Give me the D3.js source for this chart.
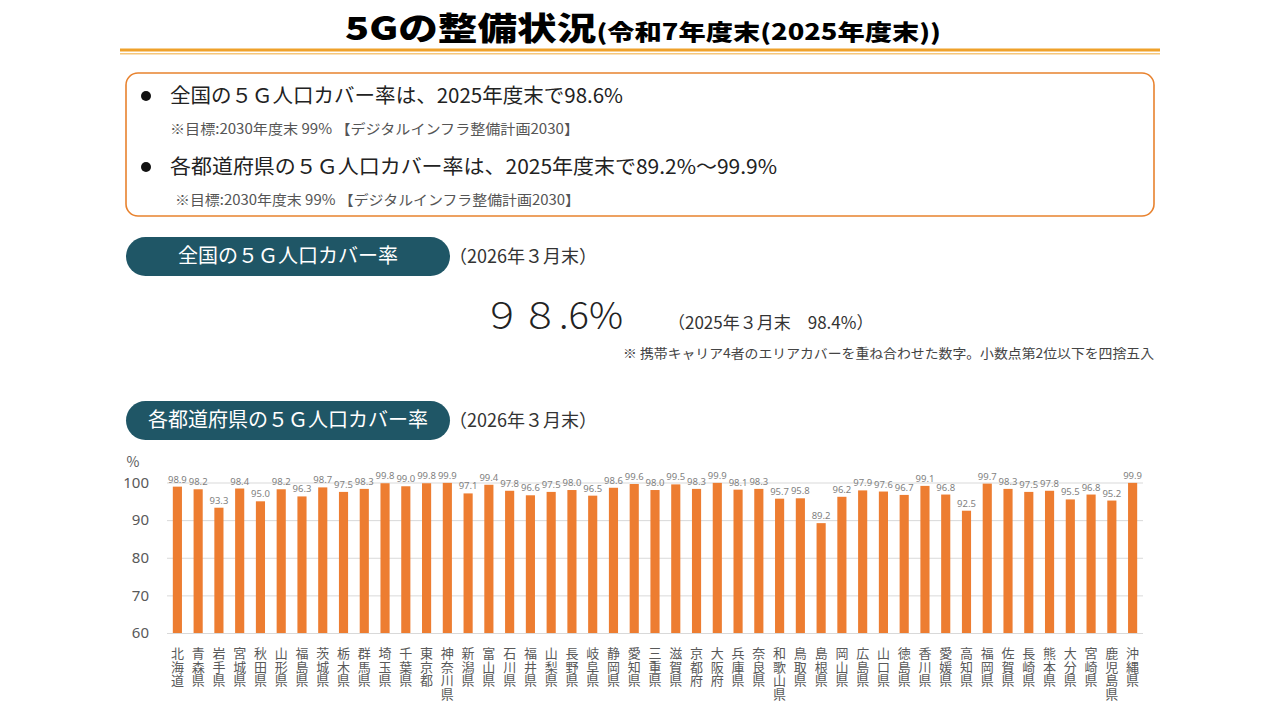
<!DOCTYPE html>
<html>
<head>
<meta charset="utf-8">
<script src="https://cdn.jsdelivr.net/npm/d3@7"></script>
<style>
  body { margin: 0; background: #fff; }
  svg text { font-family: "Noto Sans CJK JP", "Noto Sans", sans-serif; }
</style>
</head>
<body>
<div id="chart1"></div>
<script>
// prefectures, in the order of the chart
let prefs = ["北海道","青森県","岩手県","宮城県","秋田県","山形県","福島県","茨城県","栃木県","群馬県",
    "埼玉県","千葉県","東京都","神奈川県","新潟県","富山県","石川県","福井県","山梨県","長野県",
    "岐阜県","静岡県","愛知県","三重県","滋賀県","京都府","大阪府","兵庫県","奈良県","和歌山県",
    "鳥取県","島根県","岡山県","広島県","山口県","徳島県","香川県","愛媛県","高知県","福岡県",
    "佐賀県","長崎県","熊本県","大分県","宮崎県","鹿児島県","沖縄県"];
let coverage = [98.9,98.2,93.3,98.4,95.0,98.2,96.3,98.7,97.5,98.3,
    99.8,99.0,99.8,99.9,97.1,99.4,97.8,96.6,97.5,98.0,
    96.5,98.6,99.6,98.0,99.5,98.3,99.9,98.1,98.3,95.7,
    95.8,89.2,96.2,97.9,97.6,96.7,99.1,96.8,92.5,99.7,
    98.3,97.5,97.8,95.5,96.8,95.2,99.9];
let yTicks = [60, 70, 80, 90, 100];

let width = 1280;
let height = 720;

let svg = d3.select("#chart1")
    .append("svg")
    .attr("width", width)
    .attr("height", height);

// ---- title ----
let title = svg.append("text")
    .attr("x", 643)
    .attr("y", 40)
    .attr("text-anchor", "middle")
    .attr("textLength", 596)
    .attr("lengthAdjust", "spacingAndGlyphs")
    .style("font-weight", 900)
    .style("fill", "#000");
title.append("tspan").style("font-size", "32px").text("5Gの整備状況");
title.append("tspan").style("font-size", "22px").text("(令和7年度末(2025年度末))");

svg.append("rect").attr("x", 120).attr("y", 48.5).attr("width", 1040).attr("height", 3).style("fill", "#EFA12B");
svg.append("rect").attr("x", 120).attr("y", 53).attr("width", 1040).attr("height", 1.5).style("fill", "#F5C67A");

// ---- summary box ----
svg.append("rect")
    .attr("x", 126).attr("y", 73)
    .attr("width", 1028).attr("height", 143)
    .attr("rx", 12)
    .style("fill", "none")
    .style("stroke", "#E8822E")
    .style("stroke-width", 1.6);

let bullets = [
    { y: 103, main: "全国の５Ｇ人口カバー率は、2025年度末で98.6%", mainW: 453, noteX: 170, noteW: 409 },
    { y: 174, main: "各都道府県の５Ｇ人口カバー率は、2025年度末で89.2%～99.9%", mainW: 607, noteX: 175, noteW: 405 }
];
bullets.forEach(function (b) {
    svg.append("circle").attr("cx", 146).attr("cy", b.y - 7).attr("r", 5).style("fill", "#111");
    svg.append("text").attr("x", 170).attr("y", b.y)
        .attr("textLength", b.mainW)
        .attr("lengthAdjust", "spacingAndGlyphs")
        .style("font-size", "20px").style("fill", "#222").text(b.main);
    svg.append("text").attr("x", b.noteX).attr("y", b.y + 31)
        .attr("textLength", b.noteW)
        .attr("lengthAdjust", "spacingAndGlyphs")
        .style("font-size", "14px").style("fill", "#555")
        .text("※目標:2030年度末 99% 【デジタルインフラ整備計画2030】");
});

// ---- pill headings ----
function pill(y, label) {
    svg.append("rect")
        .attr("x", 126).attr("y", y)
        .attr("width", 324).attr("height", 39)
        .attr("rx", 19.5)
        .style("fill", "#1F5666");
    svg.append("text")
        .attr("x", 288).attr("y", y + 26)
        .attr("text-anchor", "middle")
        .style("font-size", "20px").style("fill", "#fff")
        .text(label);
    svg.append("text")
        .attr("x", 449).attr("y", y + 26)
        .style("font-size", "18px").style("fill", "#333")
        .text("（2026年３月末）");
}
pill(237, "全国の５Ｇ人口カバー率");
pill(401, "各都道府県の５Ｇ人口カバー率");

svg.append("text")
    .attr("x", 483).attr("y", 329)
    .attr("textLength", 140)
    .attr("lengthAdjust", "spacingAndGlyphs")
    .style("font-size", "37px").style("font-weight", 300).style("fill", "#222")
    .text("９８.6%");
svg.append("text")
    .attr("x", 668).attr("y", 329)
    .style("font-size", "17px").style("fill", "#333")
    .text("（2025年３月末　98.4%）");
svg.append("text")
    .attr("x", 623).attr("y", 358)
    .attr("textLength", 531)
    .attr("lengthAdjust", "spacingAndGlyphs")
    .style("font-size", "13px").style("fill", "#444")
    .text("※ 携帯キャリア4者のエリアカバーを重ね合わせた数字。小数点第2位以下を四捨五入");

// ---- bar chart ----
let x = d3.scaleBand()
    .domain(prefs)
    .range([167, 1143])
    .paddingInner(0.56)
    .paddingOuter(0.28);

let y = d3.scaleLinear()
    .domain([60, 100])
    .range([633, 482.5]);

let yAxis = svg.append("g")
    .attr("transform", "translate(167,0)")
    .call(d3.axisLeft(y).tickValues(yTicks).tickSize(-976).tickPadding(18));
yAxis.select(".domain").remove();
yAxis.selectAll("line").style("stroke", "#D9D9D9");
yAxis.selectAll("text")
    .style("font-size", "15px")
    .style("fill", "#595959")
    .style("font-family", "'Noto Sans', 'Noto Sans CJK JP', sans-serif");

svg.append("text")
    .attr("x", 133).attr("y", 467)
    .attr("text-anchor", "middle")
    .style("font-size", "14px").style("fill", "#595959")
    .text("%");

svg.selectAll("rect.bar")
    .data(coverage)
    .enter().append("rect")
    .attr("class", "bar")
    .attr("x", (d, i) => x(prefs[i]))
    .attr("y", (d) => y(d))
    .attr("width", x.bandwidth())
    .attr("height", (d) => y(60) - y(d))
    .style("fill", "#ED7D31");

svg.selectAll("text.val")
    .data(coverage)
    .enter().append("text")
    .attr("class", "val")
    .attr("x", (d, i) => x(prefs[i]) + x.bandwidth() / 2)
    .attr("y", (d) => y(d) - 4)
    .attr("text-anchor", "middle")
    .style("font-size", "9.5px")
    .style("fill", "#7F7F7F")
    .style("font-family", "'Noto Sans', sans-serif")
    .text((d) => d.toFixed(1));

// vertical prefecture names (tategaki)
svg.selectAll("text.pref")
    .data(prefs)
    .enter().append("text")
    .attr("class", "pref")
    .attr("x", (d) => x(d) + x.bandwidth() / 2)
    .attr("y", 647)
    .style("writing-mode", "vertical-rl")
    .style("text-orientation", "upright")
    .style("letter-spacing", "0.5px")
    .style("font-size", "13px")
    .style("fill", "#595959")
    .text((d) => d);
</script>
</body>
</html>
